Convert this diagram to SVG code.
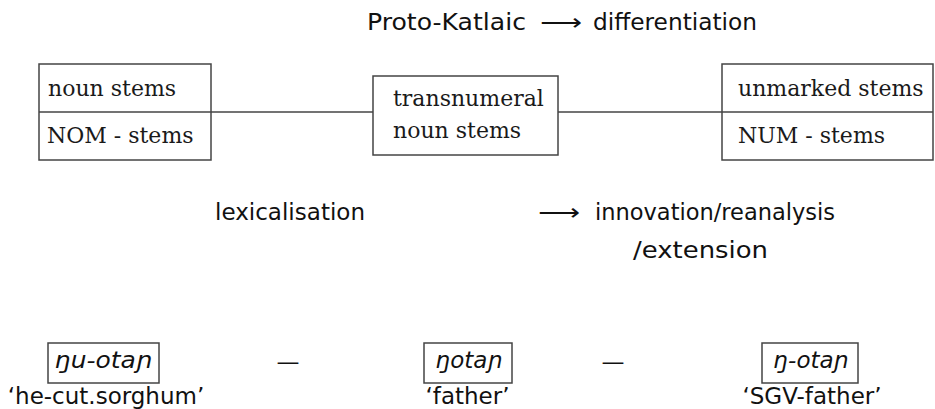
<svg xmlns="http://www.w3.org/2000/svg" width="935" height="409" viewBox="0 0 935 409">
  <style>
    .box { fill: #ffffff; stroke: #444444; stroke-width: 1.5; }
    .rule { stroke: #444444; stroke-width: 1.5; fill: none; }
    .serif { font-family: "DejaVu Serif", "Liberation Serif", serif; font-size: 22px; fill: #1a1a1a; }
    .sans { font-family: "DejaVu Sans", "Liberation Sans", sans-serif; font-size: 23px; fill: #111111; }
    .form { font-family: "DejaVu Sans", "Liberation Sans", sans-serif; font-size: 23px; font-style: italic; fill: #111111; }
  </style>

  <!-- headings -->
  <text class="sans" x="367" y="30" textLength="159" lengthAdjust="spacingAndGlyphs">Proto-Katlaic</text>
  <text class="sans" x="540" y="30" textLength="42" lengthAdjust="spacingAndGlyphs">⟶</text>
  <text class="sans" x="593" y="30" textLength="164" lengthAdjust="spacingAndGlyphs">differentiation</text>

  <text class="sans" x="215" y="220" textLength="150" lengthAdjust="spacingAndGlyphs">lexicalisation</text>
  <text class="sans" x="538" y="220" textLength="42" lengthAdjust="spacingAndGlyphs">⟶</text>
  <text class="sans" x="595" y="220" textLength="240" lengthAdjust="spacingAndGlyphs">innovation/reanalysis</text>
  <text class="sans" x="633" y="258" textLength="135" lengthAdjust="spacingAndGlyphs">/extension</text>

  <!-- connectors between the stem boxes -->
  <g id="connectors">
    <line class="rule" x1="211" y1="112" x2="373" y2="112"/>
    <line class="rule" x1="558" y1="112" x2="722" y2="112"/>
  </g>

  <g id="noun-stems">
    <rect class="box" x="39" y="64" width="172" height="96"/>
    <line class="rule" x1="39" y1="112" x2="211" y2="112"/>
    <text class="serif" x="48" y="96">noun stems</text>
    <text class="serif" x="47" y="143">NOM - stems</text>
  </g>

  <g id="transnumeral">
    <rect class="box" x="373" y="76" width="185" height="79"/>
    <text class="serif" x="393" y="106">transnumeral</text>
    <text class="serif" x="393" y="138">noun stems</text>
  </g>

  <g id="unmarked-stems">
    <rect class="box" x="722" y="64" width="211" height="96"/>
    <line class="rule" x1="722" y1="112" x2="933" y2="112"/>
    <text class="serif" x="738" y="96">unmarked stems</text>
    <text class="serif" x="738" y="143">NUM - stems</text>
  </g>

  <!-- example forms -->
  <g id="form-he-cut">
    <rect class="box" x="48" y="343" width="111" height="40"/>
    <text class="form" x="103.5" y="368" text-anchor="middle" textLength="97" lengthAdjust="spacingAndGlyphs">ŋu-otaɲ</text>
    <text class="sans" x="106" y="404" text-anchor="middle">‘he-cut.sorghum’</text>
  </g>

  <text class="sans" x="288" y="370" text-anchor="middle">—</text>

  <g id="form-father">
    <rect class="box" x="424" y="343" width="88" height="40"/>
    <text class="form" x="469" y="368" text-anchor="middle">ŋotaɲ</text>
    <text class="sans" x="467.5" y="404" text-anchor="middle">‘father’</text>
  </g>

  <text class="sans" x="613" y="370" text-anchor="middle">—</text>

  <g id="form-sgv-father">
    <rect class="box" x="762" y="343" width="96" height="40"/>
    <text class="form" x="811" y="368" text-anchor="middle">ŋ-otaɲ</text>
    <text class="sans" x="812" y="404" text-anchor="middle">‘SGV-father’</text>
  </g>
</svg>
